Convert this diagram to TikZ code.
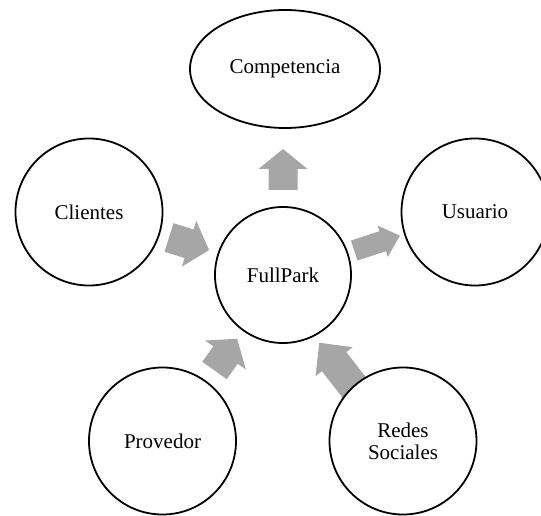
\documentclass[tikz,border=0pt]{standalone}
\usepackage{fontspec}
\setmainfont{Liberation Serif}
\usetikzlibrary{shapes.geometric}
\definecolor{arrowgray}{RGB}{166,166,166}

\begin{document}
\begin{tikzpicture}[x=1pt,y=1pt,
  bubble/.style={draw, circle, line width=1.8pt, fill=white, minimum size=147pt,
    inner sep=0pt, align=center, font=\fontsize{21}{22}\selectfont},
  hub/.style={bubble, minimum size=136pt}]
\useasboundingbox (0,0) rectangle (541,515);

% block arrows: tail x / tail y / angle / length / body / head / head length
\foreach \x/\y/\a/\l/\b/\h/\hl in {283/325/90/41/29/49/20, 354.2/264.5/18/48/21/33/18,
  169/277.5/-17.4/42/30/48/21, 214.5/144.5/54.5/39/30/50/20, 362.4/117.1/128/70/31/47/24}
{
  \fill[arrowgray, shift={(\x,\y)}, rotate=\a] (0,{-\b/2}) -- ({\l-\hl},{-\b/2}) -- ({\l-\hl},{-\h/2})
    -- (\l,0) -- ({\l-\hl},{\h/2}) -- ({\l-\hl},{\b/2}) -- (0,{\b/2}) -- cycle;
}

\node [hub] (full) at (283,240) {FullPark};
\node [bubble, ellipse, minimum width=190pt, minimum height=118pt] (comp) at (285,446) {Competencia};
\node [bubble] (usr) at (475,303) {Usuario};
\node [bubble] (cli) at (89,303) {Clientes};
\node [bubble] (prov) at (162.5,74) {Provedor};
\node [bubble] (red) at (403,74) {Redes\\Sociales};
\end{tikzpicture}
\end{document}
